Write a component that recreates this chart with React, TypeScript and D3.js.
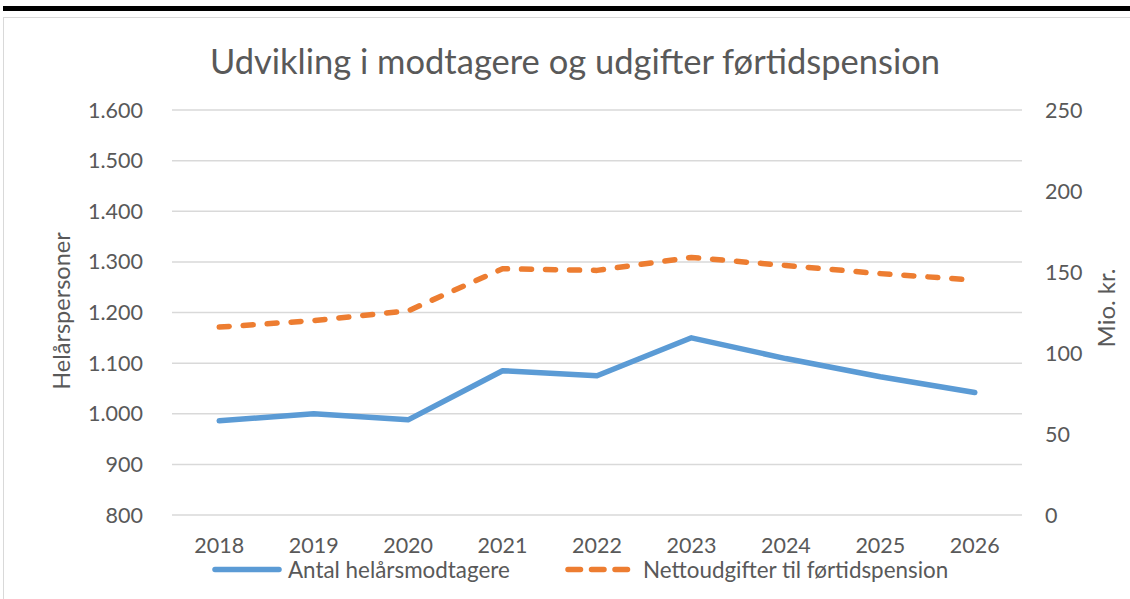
import React from "react";
import * as d3 from "d3";

const years = ["2018", "2019", "2020", "2021", "2022", "2023", "2024", "2025", "2026"];
const modtagere = [986, 1000, 988, 1085, 1075, 1150, 1109, 1073, 1042];
const udgifter = [116, 120, 126, 152, 151, 159, 154, 149, 145];
const leftTicks = [800, 900, 1000, 1100, 1200, 1300, 1400, 1500, 1600];
const rightTicks = [0, 50, 100, 150, 200, 250];

const W = 1130;
const H = 599;
const FONT = "Lato, 'Open Sans', sans-serif";
const TEXT = "#595959";

export default function App() {
  const left = 172, right = 1022, top = 110, bottom = 515;
  const x = d3.scaleBand<string>().domain(years).range([left, right]);
  const yL = d3.scaleLinear().domain([800, 1600]).range([bottom, top]);
  const yR = d3.scaleLinear().domain([0, 250]).range([bottom, top]);
  const cx = (d: string) => (x(d) as number) + x.bandwidth() / 2;
  const lineL = d3.line<number>().x((_, i) => cx(years[i])).y((d) => yL(d));
  const lineR = d3.line<number>().x((_, i) => cx(years[i])).y((d) => yR(d));
  const fmt = (v: number) => d3.format(",")(v).replace(/,/g, ".");

  return (
    <svg width={W} height={H} style={{ position: "absolute", left: 0, top: 0, background: "#fff" }} fontFamily={FONT}>
      <rect x={3} y={6} width={W} height={5} fill="#000" />
      <rect x={3.5} y={17.5} width={W} height={H} fill="#fff" stroke="#d9d9d9" strokeWidth={1} />
      <text x={575} y={74} textAnchor="middle" fontSize={34.5} fill={TEXT}>
        Udvikling i modtagere og udgifter førtidspension
      </text>
      {leftTicks.map((t) => (
        <line key={t} x1={left} x2={right} y1={yL(t)} y2={yL(t)} stroke="#d9d9d9" strokeWidth={1.5} />
      ))}
      {leftTicks.map((t) => (
        <text key={t} x={143} y={yL(t)} dy="0.35em" textAnchor="end" fontSize={21.5} fill={TEXT}>
          {fmt(t)}
        </text>
      ))}
      {rightTicks.map((t) => (
        <text key={t} x={1045} y={yR(t)} dy="0.35em" textAnchor="start" fontSize={21.5} fill={TEXT}>
          {t}
        </text>
      ))}
      {years.map((yv) => (
        <text key={yv} x={cx(yv)} y={553} textAnchor="middle" fontSize={21.5} fill={TEXT}>
          {yv}
        </text>
      ))}
      <text transform={`translate(70,${311}) rotate(-90)`} textAnchor="middle" fontSize={23.5} fill={TEXT}>
        Helårspersoner
      </text>
      <text transform={`translate(1115,${308}) rotate(-90)`} textAnchor="middle" fontSize={24} fill={TEXT}>
        Mio. kr.
      </text>
      <path d={lineR(udgifter) as string} fill="none" stroke="#ED7D31" strokeWidth={5.5} strokeDasharray="10 14" strokeLinecap="round" strokeLinejoin="round" />
      <path d={lineL(modtagere) as string} fill="none" stroke="#5B9BD5" strokeWidth={5.5} strokeLinecap="round" strokeLinejoin="round" />
      <line x1={215} x2={279} y1={569.5} y2={569.5} stroke="#5B9BD5" strokeWidth={5.5} strokeLinecap="round" />
      <text x={288} y={577.5} fontSize={22.4} fill={TEXT}>Antal helårsmodtagere</text>
      <line x1={568} x2={627.5} y1={569.5} y2={569.5} stroke="#ED7D31" strokeWidth={5.5} strokeLinecap="round" strokeDasharray="12.5 11" />
      <text x={643} y={577.5} fontSize={22.4} fill={TEXT}>Nettoudgifter til førtidspension</text>
    </svg>
  );
}
